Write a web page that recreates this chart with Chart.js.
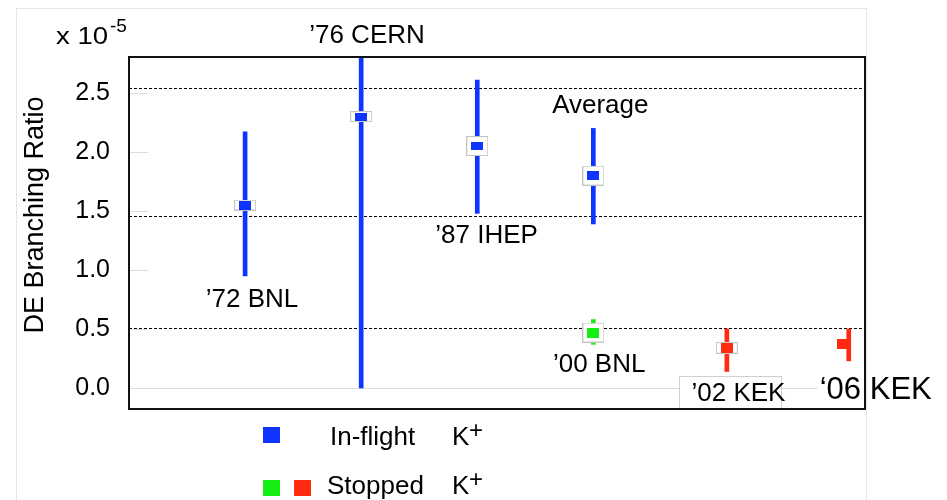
<!DOCTYPE html>
<html>
<head>
<meta charset="utf-8">
<script src="https://cdn.jsdelivr.net/npm/chart.js@4.4.1/dist/chart.umd.min.js"></script>
<style>
  body { margin: 0; background: #fff; }
</style>
</head>
<body>
<canvas id="deChart" width="947" height="500"></canvas>
<script>
// DE branching ratio measurements, in units of 1e-5
const experiments = ['’72 BNL', '’76 CERN', '’87 IHEP', 'Average', '’00 BNL', '’02 KEK', '‘06 KEK'];
const xPos    = [1, 2, 3, 4, 4, 5.15, 6.15];
const barX    = [1, 2, 3, 4, 4, 5.15, 6.2];
const central = [1.55, 2.30, 2.05, 1.80, 0.47, 0.34, 0.37];
const errLow  = [0.95, 0.00, 1.48, 1.39, 0.37, 0.14, 0.23];
const errHigh = [2.17, 4.60, 2.61, 2.20, 0.58, 0.50, 0.50];
const yTicks  = [0, 0.5, 1.0, 1.5, 2.0, 2.5];
const refLines = [0.51, 1.46, 2.54];

const BLUE = '#1034ff', GREEN = '#14ee14', RED = '#ff2a10';
const colors = [BLUE, BLUE, BLUE, BLUE, GREEN, RED, RED];
const markerSize = [[12, 9], [12, 8], [12, 8], [12, 9], [12, 10], [12, 10], [12, 10]];
const boxSize = [[22, 11], [22, 11], [22, 20], [22, 20], [22, 20], [22, 12], [2, 2]];

const FONT = '"Liberation Sans", Arial, Helvetica, sans-serif';

function sprite(w, h, fill, stroke) {
  const c = document.createElement('canvas');
  c.width = w; c.height = h;
  const g = c.getContext('2d');
  g.fillStyle = fill;
  g.fillRect(0, 0, w, h);
  if (stroke) {
    g.strokeStyle = stroke;
    g.lineWidth = 1;
    g.strokeRect(0.5, 0.5, w - 1, h - 1);
  }
  return c;
}

const markers = markerSize.map((s, i) => sprite(s[0], s[1], colors[i]));
const boxes = boxSize.map(s => sprite(s[0], s[1], '#fff', '#c4c4c4'));

// text placed in data coordinates
const notes = [
  { text: '’76 CERN', x: 2.05, y: 2.924, size: 26 },
  { text: '’72 BNL',  x: 1.06, y: 0.686, size: 26 },
  { text: '’87 IHEP', x: 3.08, y: 1.229, size: 26 },
  { text: 'Average',  x: 4.06, y: 2.33,  size: 26 },
  { text: '’00 BNL',  x: 4.05, y: 0.136, size: 26 },
  { text: '’02 KEK',  x: 5.25, y: -0.11, size: 26, boxed: true },
  { text: '‘06 KEK',  x: 5.95, y: -0.093, size: 31, align: 'left' }
];

const decor = {
  id: 'decor',
  beforeDraw(chart) {
    const ctx = chart.ctx;
    ctx.save();
    ctx.fillStyle = '#fff';
    ctx.fillRect(0, 0, chart.width, chart.height);
    ctx.strokeStyle = '#e6e6e6';
    ctx.lineWidth = 1;
    ctx.strokeRect(16.5, 8.5, 850, 520);
    ctx.restore();
  },
  beforeDatasetsDraw(chart) {
    const { ctx, chartArea: a, scales: { y } } = chart;
    ctx.save();
    // short tick marks inside the frame
    ctx.strokeStyle = '#dcdcdc';
    ctx.lineWidth = 1;
    yTicks.forEach(v => {
      const py = Math.round(y.getPixelForValue(v)) + 0.5;
      ctx.beginPath();
      ctx.moveTo(a.left, py);
      ctx.lineTo(v === 0 ? a.right : a.left + 19, py);
      ctx.stroke();
    });
    // dashed reference levels
    ctx.strokeStyle = '#000';
    ctx.setLineDash([3, 2]);
    refLines.forEach(v => {
      const py = Math.round(y.getPixelForValue(v)) + 0.5;
      ctx.beginPath();
      ctx.moveTo(a.left, py);
      ctx.lineTo(a.right, py);
      ctx.stroke();
    });
    ctx.restore();
  },
  afterDatasetsDraw(chart) {
    const { ctx, chartArea: a, scales: { x, y } } = chart;
    ctx.save();
    ctx.fillStyle = '#000';
    ctx.textBaseline = 'alphabetic';
    notes.forEach(n => {
      const px = x.getPixelForValue(n.x);
      const py = y.getPixelForValue(n.y);
      ctx.font = n.size + 'px ' + FONT;
      if (n.boxed) {
        ctx.fillStyle = '#fff';
        ctx.fillRect(px - 59, py - 25, 102, a.bottom - py + 25);
        ctx.strokeStyle = '#d0d0d0';
        ctx.lineWidth = 1;
        ctx.strokeRect(Math.round(px - 59) + 0.5, Math.round(py - 25) + 0.5, 102, a.bottom - py + 25);
      }
      if (n.align === 'left') {
        ctx.fillStyle = '#fff';
        ctx.fillRect(px - 2, py - 30, a.right - px + 1, a.bottom - py + 30);
      }
      ctx.fillStyle = '#000';
      ctx.textAlign = n.align || 'center';
      ctx.fillText(n.text, px, py);
    });

    // plot frame
    ctx.strokeStyle = '#111';
    ctx.lineWidth = 2;
    ctx.strokeRect(a.left, a.top, a.right - a.left, a.bottom - a.top);

    // axis title
    ctx.save();
    ctx.translate(43, 215);
    ctx.rotate(-Math.PI / 2);
    ctx.font = '27px ' + FONT;
    ctx.textAlign = 'center';
    ctx.fillText('DE Branching Ratio', 0, 0);
    ctx.restore();

    // exponent
    ctx.save();
    ctx.translate(56, 44);
    ctx.scale(1.15, 1);
    ctx.font = '24px ' + FONT;
    ctx.textAlign = 'left';
    ctx.fillText('x 10', 0, 0);
    ctx.restore();
    ctx.font = '19px ' + FONT;
    ctx.textAlign = 'left';
    ctx.fillText('-5', 110, 32);

    // legend
    ctx.fillStyle = BLUE;
    ctx.fillRect(263, 427, 17, 16);
    ctx.fillStyle = GREEN;
    ctx.fillRect(263, 480, 17, 16);
    ctx.fillStyle = RED;
    ctx.fillRect(294, 480, 17, 16);
    ctx.fillStyle = '#000';
    ctx.font = '26px ' + FONT;
    ctx.fillText('In-flight', 330, 445);
    ctx.fillText('Stopped', 327, 494);
    ctx.fillText('K', 452, 445);
    ctx.fillText('K', 452, 494);
    ctx.font = '24px ' + FONT;
    ctx.fillText('+', 469, 438);
    ctx.fillText('+', 469, 487);
    ctx.restore();
  }
};

new Chart(document.getElementById('deChart'), {
  type: 'bar',
  data: {
    datasets: [
      {
        type: 'scatter',
        label: 'value',
        order: 0,
        data: xPos.map((v, i) => ({ x: v, y: central[i] })),
        pointStyle: markers,
        pointRadius: 5
      },
      {
        type: 'scatter',
        label: 'frame',
        order: 1,
        data: xPos.map((v, i) => ({ x: v, y: central[i] })),
        pointStyle: boxes,
        pointRadius: boxSize.map((s, i) => i === 6 ? 0 : 5)
      },
      {
        type: 'bar',
        label: 'error',
        order: 2,
        data: barX.map((v, i) => ({ x: v, y: [errLow[i], errHigh[i]] })),
        backgroundColor: colors,
        borderWidth: 0,
        barThickness: 4,
        grouped: false
      }
    ]
  },
  options: {
    responsive: false,
    devicePixelRatio: 1,
    animation: false,
    events: [],
    layout: { padding: { left: 0, top: 57, right: 82, bottom: 91 } },
    plugins: { legend: { display: false }, tooltip: { enabled: false } },
    scales: {
      x: { type: 'linear', min: 0, max: 6.34, offset: false, display: false },
      y: {
        type: 'linear',
        min: -0.178,
        max: 2.805,
        grid: { display: false },
        border: { display: false },
        afterBuildTicks: s => { s.ticks = yTicks.map(v => ({ value: v })); },
        afterFit: s => { s.width = 129; },
        ticks: {
          padding: 11,
          color: '#000',
          font: { family: FONT, size: 25 },
          callback: v => v.toFixed(1)
        }
      }
    }
  },
  plugins: [decor]
});
</script>
</body>
</html>
